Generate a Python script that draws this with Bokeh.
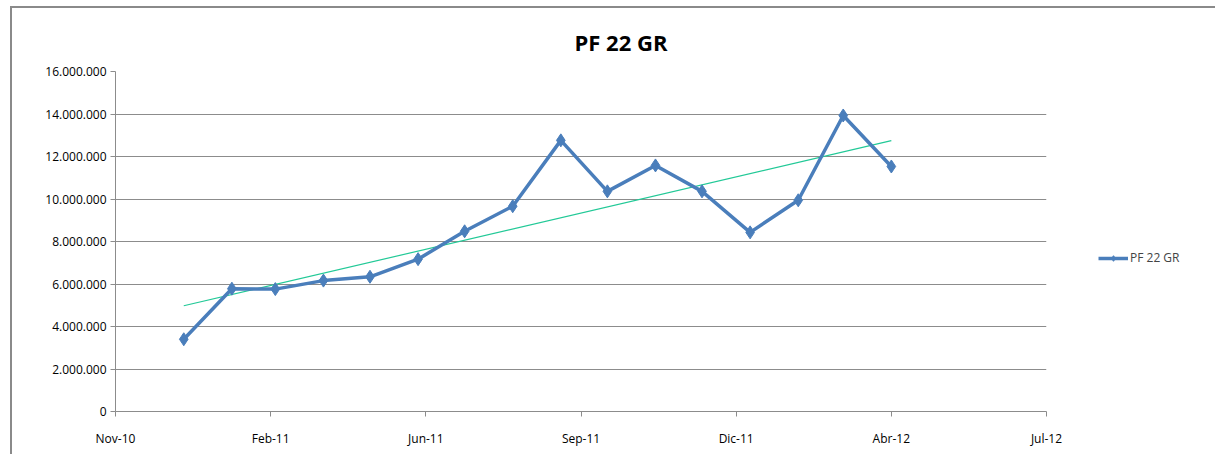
import datetime as dt
import numpy as np
from bokeh.plotting import figure
from bokeh.layouts import column, row
from bokeh.models import (FixedTicker, CustomJSTickFormatter, Range1d, Legend, LegendItem, Spacer)
from bokeh.embed import file_html
from bokeh.resources import INLINE

# ---- data ----
months = ["2011-01-01", "2011-02-01", "2011-03-01", "2011-04-01", "2011-05-01",
          "2011-06-01", "2011-07-01", "2011-08-01", "2011-09-01", "2011-10-01",
          "2011-11-01", "2011-12-01", "2012-01-01", "2012-02-01", "2012-03-01",
          "2012-04-01"]
values = [3400000, 5780000, 5760000, 6160000, 6340000,
          7170000, 8480000, 9660000, 12760000, 10360000,
          11580000, 10360000, 8430000, 9940000, 13930000,
          11530000]
tick_dates = ["2010-11-18", "2011-02-26", "2011-06-06", "2011-09-14",
              "2011-12-23", "2012-04-01", "2012-07-10"]
series_name = "PF 22 GR"
title_text = "PF 22 GR"

def ms(s):
    d = dt.datetime.strptime(s, "%Y-%m-%d").replace(tzinfo=dt.timezone.utc)
    return d.timestamp() * 1000.0

xs = [ms(m) for m in months]
ticks = [ms(t) for t in tick_dates]

# linear trendline (least squares on the data)
xa = np.array(xs)
ya = np.array(values, dtype=float)
k, b = np.polyfit(xa, ya, 1)
trend_x = [xs[0], xs[-1]]
trend_y = [k * xs[0] + b, k * xs[-1] + b]

FONT = "Open Sans"
BLUE = "#4A7EBB"
GRID = "#8C8C8C"
FRAME_BORDER = "2px solid #8a8a8a"

p = figure(width=1054, height=448, output_backend="svg", toolbar_location=None,
           x_axis_type="datetime",
           x_range=Range1d(ticks[0], ticks[-1]), y_range=Range1d(0, 16000000),
           min_border_left=103, min_border_right=20, min_border_top=63,
           min_border_bottom=45)
p.styles = {"border-top": FRAME_BORDER, "border-left": FRAME_BORDER}

p.title.text = title_text
p.title.text_font = FONT
p.title.text_font_style = "bold"
p.title.text_font_size = "22px"
p.title.align = "left"
p.title.offset = 459
p.title.standoff = 30
p.title.text_color = "#000000"

p.outline_line_color = None
p.background_fill_color = "white"
p.border_fill_color = "white"

# axes
p.xaxis.ticker = FixedTicker(ticks=ticks)
p.xaxis.formatter = CustomJSTickFormatter(code="""
const m = ['Ene','Feb','Mar','Abr','May','Jun','Jul','Ago','Sep','Oct','Nov','Dic'];
const d = new Date(tick);
const yy = String(d.getUTCFullYear() % 100).padStart(2,'0');
return m[d.getUTCMonth()] + '-' + yy;
""")
p.yaxis.ticker = FixedTicker(ticks=list(range(0, 16000001, 2000000)))
p.yaxis.formatter = CustomJSTickFormatter(code="""
return Math.round(tick).toString().replace(/\\B(?=(\\d{3})+(?!\\d))/g, '.');
""")
for ax in (p.xaxis[0], p.yaxis[0]):
    ax.axis_line_color = GRID
    ax.major_tick_line_color = GRID
    ax.minor_tick_line_color = None
    ax.major_tick_in = 0
    ax.major_tick_out = 5
    ax.major_label_text_font = FONT
    ax.major_label_text_font_size = "12px"
    ax.major_label_text_color = "#000000"
p.xaxis.major_label_standoff = 13
p.yaxis.major_label_standoff = 4

p.xgrid.grid_line_color = None
p.ygrid.grid_line_color = GRID
p.ygrid.grid_line_width = 1

# trendline
p.line(trend_x, trend_y, line_color="#22C997", line_width=1.2)

# series
p.line(xs, values, line_color=BLUE, line_width=3.5)
p.scatter(xs, values, marker="diamond", size=13, fill_color=BLUE, line_color=BLUE)

# legend area (separate panel to the right of the chart); the series is
# drawn there again outside its visible range so the legend has real glyphs
q = figure(width=151, height=448, output_backend="svg", toolbar_location=None,
           x_axis_location=None, y_axis_location=None,
           x_range=Range1d(0, 1), y_range=Range1d(0, 1),
           min_border_left=0, min_border_right=0, min_border_top=0, min_border_bottom=0)
q.styles = {"border-top": FRAME_BORDER}
q.outline_line_color = None
q.grid.grid_line_color = None
q.border_fill_color = "white"
lg_line = q.line(xs, values, line_color=BLUE, line_width=3.5)
lg_mark = q.scatter(xs, values, marker="diamond", size=10, fill_color=BLUE, line_color=BLUE)
legend = Legend(items=[LegendItem(label=series_name, renderers=[lg_line, lg_mark])],
                location=(34, 145), border_line_color=None,
                background_fill_alpha=0, label_text_font=FONT,
                label_text_font_size="12px", glyph_width=30, glyph_height=14,
                label_standoff=2, padding=0, margin=0)
q.add_layout(legend, "center")

layout = column(Spacer(width=10, height=6), row(Spacer(width=10, height=10), p, q))
open("out.html", "w").write(file_html(layout, INLINE))
